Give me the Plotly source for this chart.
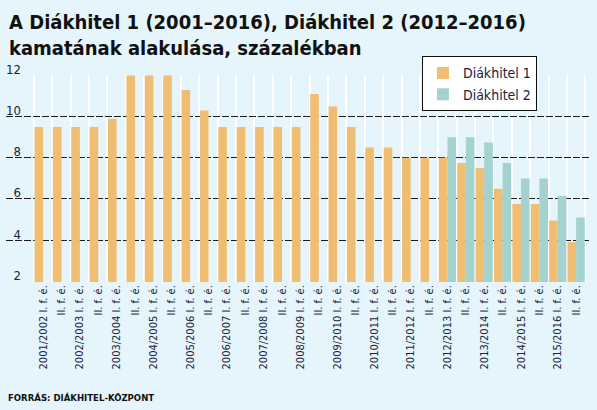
import plotly.graph_objects as go

# tanévek, félévenként (I. / II. félév)
years = ["2001/2002", "2002/2003", "2003/2004", "2004/2005", "2005/2006",
         "2006/2007", "2007/2008", "2008/2009", "2009/2010", "2010/2011",
         "2011/2012", "2012/2013", "2013/2014", "2014/2015", "2015/2016"]
semesters = ["I. f. é.", "II. f. é."]

categories = []
for y in years:
    for s in semesters:
        categories.append(y + " " + s)
tick_labels = []
for y in years:
    tick_labels.append(y + " I. f. é.")
    tick_labels.append("II. f. é.")

# kamat, százalék
diakhitel1 = [9.5, 9.5, 9.5, 9.5, 9.9, 12.0, 12.0, 12.0, 11.3, 10.3,
              9.5, 9.5, 9.5, 9.5, 9.5, 11.1, 10.5, 9.5, 8.5, 8.5,
              8.0, 8.0, 8.0, 7.75, 7.5, 6.5, 5.75, 5.75, 4.95, 3.9]
diakhitel2 = [None] * 22 + [9.0, 9.0, 8.75, 7.75, 7.0, 7.0, 6.15, 5.1]

y_ticks = [2, 4, 6, 8, 10, 12]
y_ticktext = ["\u2007" + str(v) if v < 10 else str(v) for v in y_ticks]

bg = "#E5F5FB"
navy = "#1B2240"
cond = "DejaVu Sans Condensed, Liberation Sans Narrow, sans-serif"

fig = go.Figure()
fig.add_trace(go.Bar(x=categories, y=diakhitel1, name="Diákhitel 1",
                     marker=dict(color="#F0BE73", line=dict(width=0))))
fig.add_trace(go.Bar(x=categories, y=diakhitel2, name="Diákhitel 2",
                     marker=dict(color="#A4D3CF", line=dict(width=0))))

fig.update_layout(
    width=597, height=410,
    margin=dict(l=6, r=6, t=75, b=128, autoexpand=False),
    paper_bgcolor=bg, plot_bgcolor=bg,
    barmode="group", bargap=0.06, bargroupgap=0,
    font=dict(family=cond, color=navy, size=12),
    legend=dict(x=0.711, y=1.09, xanchor="left", yanchor="top",
                bgcolor="white", bordercolor="#111111", borderwidth=1,
                itemwidth=30, tracegroupgap=0,
                font=dict(size=14, color=navy)),
)

fig.update_xaxes(type="category", categoryorder="array", categoryarray=categories,
                 tickvals=categories, ticktext=tick_labels, tickangle=-90,
                 tickson="boundaries", ticks="", showgrid=True,
                 gridcolor="white", gridwidth=2, showline=False, zeroline=False,
                 range=[-2.02, 29.81], tickfont=dict(size=11, color=navy))

fig.update_yaxes(range=[1.96, 12.03], tickvals=y_ticks, ticktext=y_ticktext,
                 ticklabelposition="inside top", ticklabeloverflow="allow",
                 ticklen=0, ticklabelstandoff=-3, ticklabelshift=3,
                 showgrid=True, gridcolor="#1a1a1a", gridwidth=1, griddash="7px,2px",
                 zeroline=False, showline=False, ticks="",
                 tickfont=dict(size=13, color=navy))

# cím
fig.add_annotation(text="<b>A Diákhitel 1 (2001–2016), Diákhitel 2 (2012–2016)<br>"
                        "kamatának alakulása, százalékban</b>",
                   xref="paper", yref="paper", x=0.0017, y=1.322,
                   xanchor="left", yanchor="top", align="left", showarrow=False,
                   font=dict(family=cond, size=20, color="#111111"))

fig.add_annotation(text="<b>FORRÁS: DIÁKHITEL-KÖZPONT</b>", xref="paper", yref="paper",
                   x=0, y=-0.560, xanchor="left", yanchor="middle", showarrow=False,
                   font=dict(family=cond, size=9.5, color="#111111"))

# az oldal alapértelmezett margója nélkül
fig.write_html("out.html", config={"displayModeBar": False},
               post_script="document.body.style.margin='0';")
